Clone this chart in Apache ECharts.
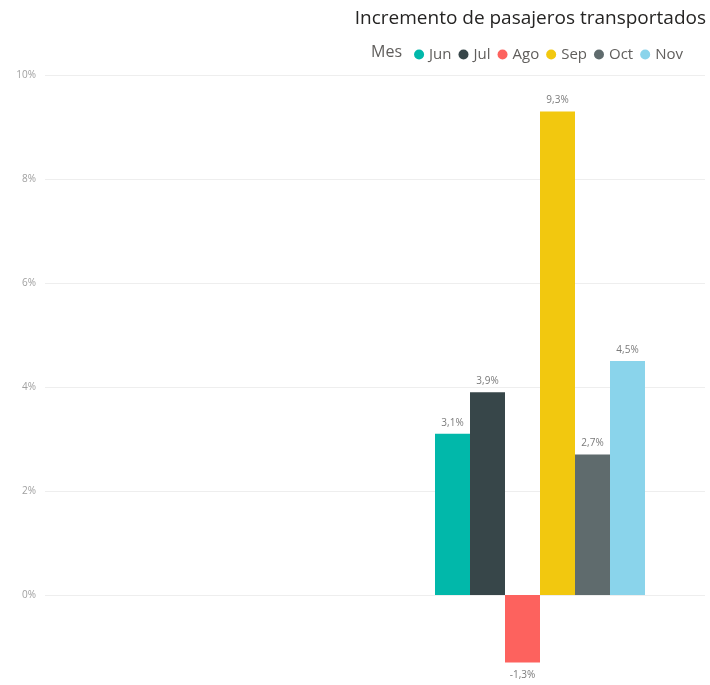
<!DOCTYPE html>
<html>
<head>
<meta charset="utf-8">
<script src="https://cdn.jsdelivr.net/npm/echarts@6/dist/echarts.min.js"></script>
<style>
  html, body { margin: 0; padding: 0; background: #ffffff; }
  #chart { width: 710px; height: 685px; }
</style>
</head>
<body>
<div id="chart"></div>
<script>
// Monthly increase in transported passengers (%)
const months = ['Jun', 'Jul', 'Ago', 'Sep', 'Oct', 'Nov'];
const increments = [3.1, 3.9, -1.3, 9.3, 2.7, 4.5];
const colors = ['#01B8AA', '#374649', '#FD625E', '#F2C80F', '#5F6B6D', '#8AD4EB'];
const slots = ['', 'Total'];
const yTicks = [0, 2, 4, 6, 8, 10];

const fontFamily = '"Open Sans", "Noto Sans", sans-serif';
const fmt = v => String(v).replace('.', ',') + '%';

const series = months.map((m, i) => ({
  name: m,
  type: 'bar',
  barWidth: 35,
  barGap: '0%',
  itemStyle: { color: colors[i] },
  label: {
    show: true,
    position: increments[i] < 0 ? 'bottom' : 'top',
    distance: increments[i] < 0 ? 8 : 6,
    color: '#7a7a7a',
    fontSize: 10,
    fontFamily: fontFamily,
    formatter: p => fmt(p.value)
  },
  data: slots.map((s, k) => (k === 1 ? increments[i] : null))
}));

const chart = echarts.init(document.getElementById('chart'), null, { renderer: 'canvas' });
chart.setOption({
  animation: false,
  backgroundColor: '#ffffff',
  title: {
    text: 'Incremento de pasajeros transportados',
    right: -1,
    top: 4,
    textStyle: { color: '#252423', fontSize: 19, fontWeight: 'normal', fontFamily: fontFamily }
  },
  legend: {
    data: months,
    right: 22,
    top: 42,
    icon: 'circle',
    itemWidth: 10,
    itemHeight: 10,
    itemGap: 7,
    textStyle: { color: '#605E5C', fontSize: 15, fontFamily: fontFamily }
  },
  graphic: [{
    type: 'text',
    left: 371,
    top: 44,
    style: { text: 'Mes', fill: '#605E5C', font: '16px ' + fontFamily }
  }],
  grid: { left: 45, top: 75, width: 660, height: 624, containLabel: false, outerBoundsMode: 'none' },
  xAxis: {
    type: 'category',
    data: slots,
    axisLine: { show: false },
    axisTick: { show: false },
    axisLabel: { show: false },
    splitLine: { show: false }
  },
  yAxis: {
    type: 'value',
    min: -2,
    max: 10,
    interval: 2,
    axisLine: { show: false },
    axisTick: { show: false },
    axisLabel: {
      margin: 9,
      color: '#a0a0a0',
      fontSize: 10,
      fontFamily: fontFamily,
      formatter: v => (yTicks.includes(v) ? v + '%' : '')
    },
    splitLine: { lineStyle: { color: '#eeeeee', width: 1 } }
  },
  series: series
});
</script>
</body>
</html>
